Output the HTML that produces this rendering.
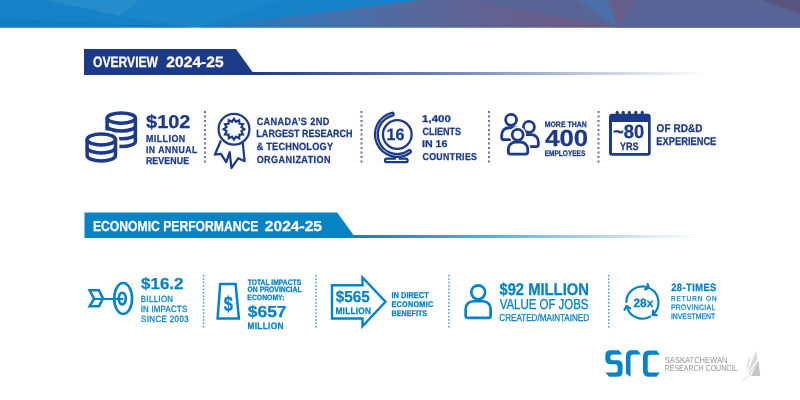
<!DOCTYPE html>
<html><head><meta charset="utf-8">
<style>
html,body{margin:0;padding:0;background:#fff;width:800px;height:400px;overflow:hidden;position:relative}
.t{position:absolute;font-family:"Liberation Sans",sans-serif;white-space:nowrap;transform-origin:0 0;text-rendering:geometricPrecision}
svg{position:absolute;left:0;top:0}
.tx{will-change:transform}
.tx text{font-family:"Liberation Sans",sans-serif;text-rendering:geometricPrecision;white-space:pre}
</style></head><body>
<svg width="800" height="400" viewBox="0 0 800 400">
<defs>
<linearGradient id="pg" x1="198" y1="0" x2="618" y2="0" gradientUnits="userSpaceOnUse">
<stop offset="0" stop-color="#1f7bc0"/><stop offset="0.25" stop-color="#3873b2"/><stop offset="0.55" stop-color="#5a6699"/><stop offset="1" stop-color="#72577f"/>
</linearGradient>
<linearGradient id="l1" x1="252" y1="0" x2="705" y2="0" gradientUnits="userSpaceOnUse">
<stop offset="0" stop-color="#1c3a88" stop-opacity="1"/><stop offset="0.4" stop-color="#1c3a88" stop-opacity="0.65"/><stop offset="1" stop-color="#1c3a88" stop-opacity="0"/>
</linearGradient>
<linearGradient id="l2" x1="353" y1="0" x2="700" y2="0" gradientUnits="userSpaceOnUse">
<stop offset="0" stop-color="#0682c5" stop-opacity="1"/><stop offset="0.4" stop-color="#0682c5" stop-opacity="0.65"/><stop offset="1" stop-color="#0682c5" stop-opacity="0"/>
</linearGradient>
</defs>
<!-- banner -->
<rect x="0" y="0" width="800" height="27.5" fill="#1581c7"/>
<polygon points="140,0 281,0 198,27.5 120,16" fill="#1b87ca"/>
<polygon points="45,0 120,16 140,0" fill="#268dcd"/>
<polygon points="0,19 198,27.5 0,27.5" fill="#117cc2"/>
<polygon points="198,27.5 422,0 800,0 800,27.5" fill="url(#pg)"/>
<polygon points="467,0 800,0 800,27.5 618,27.5" fill="#586496"/>
<polygon points="578,0 608,0 618,27.5" fill="#4b70a8"/>
<polygon points="608,0 635,0 618,27.5" fill="#665f8c"/>
<polygon points="762,0 800,0 800,14" fill="#5a5480"/>

<!-- overview header -->
<polygon points="84,49 236,49 252.5,72 84,72" fill="#1c3a88"/>
<rect x="84" y="72" width="169" height="3" fill="#1c3a88"/>
<rect x="252" y="72" width="453" height="3" fill="url(#l1)"/>
<!-- economic header -->
<polygon points="84.5,212.5 337.2,212.5 353.5,235 84.5,235" fill="#0682c5"/>
<rect x="84.5" y="235" width="269" height="3" fill="#0682c5"/>
<rect x="353" y="235" width="347" height="3" fill="url(#l2)"/>

<!-- separators row1 -->

<g fill="#1c3a88" opacity="0.7"><rect x="204" y="111.0" width="2" height="2"/><rect x="204" y="115.5" width="2" height="2"/><rect x="204" y="120.0" width="2" height="2"/><rect x="204" y="124.5" width="2" height="2"/><rect x="204" y="129.0" width="2" height="2"/><rect x="204" y="133.5" width="2" height="2"/><rect x="204" y="138.0" width="2" height="2"/><rect x="204" y="142.5" width="2" height="2"/><rect x="204" y="147.0" width="2" height="2"/><rect x="204" y="151.5" width="2" height="2"/><rect x="204" y="156.0" width="2" height="2"/><rect x="204" y="160.5" width="2" height="2"/><rect x="360.5" y="111.0" width="2" height="2"/><rect x="360.5" y="115.5" width="2" height="2"/><rect x="360.5" y="120.0" width="2" height="2"/><rect x="360.5" y="124.5" width="2" height="2"/><rect x="360.5" y="129.0" width="2" height="2"/><rect x="360.5" y="133.5" width="2" height="2"/><rect x="360.5" y="138.0" width="2" height="2"/><rect x="360.5" y="142.5" width="2" height="2"/><rect x="360.5" y="147.0" width="2" height="2"/><rect x="360.5" y="151.5" width="2" height="2"/><rect x="360.5" y="156.0" width="2" height="2"/><rect x="360.5" y="160.5" width="2" height="2"/><rect x="488" y="111.0" width="2" height="2"/><rect x="488" y="115.5" width="2" height="2"/><rect x="488" y="120.0" width="2" height="2"/><rect x="488" y="124.5" width="2" height="2"/><rect x="488" y="129.0" width="2" height="2"/><rect x="488" y="133.5" width="2" height="2"/><rect x="488" y="138.0" width="2" height="2"/><rect x="488" y="142.5" width="2" height="2"/><rect x="488" y="147.0" width="2" height="2"/><rect x="488" y="151.5" width="2" height="2"/><rect x="488" y="156.0" width="2" height="2"/><rect x="488" y="160.5" width="2" height="2"/><rect x="597.5" y="111.0" width="2" height="2"/><rect x="597.5" y="115.5" width="2" height="2"/><rect x="597.5" y="120.0" width="2" height="2"/><rect x="597.5" y="124.5" width="2" height="2"/><rect x="597.5" y="129.0" width="2" height="2"/><rect x="597.5" y="133.5" width="2" height="2"/><rect x="597.5" y="138.0" width="2" height="2"/><rect x="597.5" y="142.5" width="2" height="2"/><rect x="597.5" y="147.0" width="2" height="2"/><rect x="597.5" y="151.5" width="2" height="2"/><rect x="597.5" y="156.0" width="2" height="2"/><rect x="597.5" y="160.5" width="2" height="2"/></g><g fill="#0682c5" opacity="0.8"><rect x="202.8" y="275.0" width="1.5" height="1.5"/><rect x="202.8" y="278.4" width="1.5" height="1.5"/><rect x="202.8" y="281.8" width="1.5" height="1.5"/><rect x="202.8" y="285.2" width="1.5" height="1.5"/><rect x="202.8" y="288.6" width="1.5" height="1.5"/><rect x="202.8" y="292.0" width="1.5" height="1.5"/><rect x="202.8" y="295.4" width="1.5" height="1.5"/><rect x="202.8" y="298.8" width="1.5" height="1.5"/><rect x="202.8" y="302.2" width="1.5" height="1.5"/><rect x="202.8" y="305.6" width="1.5" height="1.5"/><rect x="202.8" y="309.0" width="1.5" height="1.5"/><rect x="202.8" y="312.4" width="1.5" height="1.5"/><rect x="202.8" y="315.8" width="1.5" height="1.5"/><rect x="202.8" y="319.2" width="1.5" height="1.5"/><rect x="202.8" y="322.6" width="1.5" height="1.5"/><rect x="202.8" y="326.0" width="1.5" height="1.5"/><rect x="315.3" y="275.0" width="1.5" height="1.5"/><rect x="315.3" y="278.4" width="1.5" height="1.5"/><rect x="315.3" y="281.8" width="1.5" height="1.5"/><rect x="315.3" y="285.2" width="1.5" height="1.5"/><rect x="315.3" y="288.6" width="1.5" height="1.5"/><rect x="315.3" y="292.0" width="1.5" height="1.5"/><rect x="315.3" y="295.4" width="1.5" height="1.5"/><rect x="315.3" y="298.8" width="1.5" height="1.5"/><rect x="315.3" y="302.2" width="1.5" height="1.5"/><rect x="315.3" y="305.6" width="1.5" height="1.5"/><rect x="315.3" y="309.0" width="1.5" height="1.5"/><rect x="315.3" y="312.4" width="1.5" height="1.5"/><rect x="315.3" y="315.8" width="1.5" height="1.5"/><rect x="315.3" y="319.2" width="1.5" height="1.5"/><rect x="315.3" y="322.6" width="1.5" height="1.5"/><rect x="315.3" y="326.0" width="1.5" height="1.5"/><rect x="448.2" y="275.0" width="1.5" height="1.5"/><rect x="448.2" y="278.4" width="1.5" height="1.5"/><rect x="448.2" y="281.8" width="1.5" height="1.5"/><rect x="448.2" y="285.2" width="1.5" height="1.5"/><rect x="448.2" y="288.6" width="1.5" height="1.5"/><rect x="448.2" y="292.0" width="1.5" height="1.5"/><rect x="448.2" y="295.4" width="1.5" height="1.5"/><rect x="448.2" y="298.8" width="1.5" height="1.5"/><rect x="448.2" y="302.2" width="1.5" height="1.5"/><rect x="448.2" y="305.6" width="1.5" height="1.5"/><rect x="448.2" y="309.0" width="1.5" height="1.5"/><rect x="448.2" y="312.4" width="1.5" height="1.5"/><rect x="448.2" y="315.8" width="1.5" height="1.5"/><rect x="448.2" y="319.2" width="1.5" height="1.5"/><rect x="448.2" y="322.6" width="1.5" height="1.5"/><rect x="448.2" y="326.0" width="1.5" height="1.5"/><rect x="608" y="275.0" width="1.5" height="1.5"/><rect x="608" y="278.4" width="1.5" height="1.5"/><rect x="608" y="281.8" width="1.5" height="1.5"/><rect x="608" y="285.2" width="1.5" height="1.5"/><rect x="608" y="288.6" width="1.5" height="1.5"/><rect x="608" y="292.0" width="1.5" height="1.5"/><rect x="608" y="295.4" width="1.5" height="1.5"/><rect x="608" y="298.8" width="1.5" height="1.5"/><rect x="608" y="302.2" width="1.5" height="1.5"/><rect x="608" y="305.6" width="1.5" height="1.5"/><rect x="608" y="309.0" width="1.5" height="1.5"/><rect x="608" y="312.4" width="1.5" height="1.5"/><rect x="608" y="315.8" width="1.5" height="1.5"/><rect x="608" y="319.2" width="1.5" height="1.5"/><rect x="608" y="322.6" width="1.5" height="1.5"/><rect x="608" y="326.0" width="1.5" height="1.5"/></g>

<!-- coins -->
<g fill="none" stroke="#1c3a88" stroke-width="3.5">
 <ellipse cx="121.25" cy="118.1" rx="14.15" ry="5.1"/>
 <path d="M107.1,118.1 V141.5 A14.15,5.1 0 0 0 135.4,141.5 V118.1"/>
 <path d="M107.1,125.9 A14.15,5.1 0 0 0 135.4,125.9"/>
 <path d="M107.1,133.7 A14.15,5.1 0 0 0 135.4,133.7"/>
</g>
<path d="M87.1,139.5 V155.5 A14.2,5.5 0 0 0 115.5,155.5 V139.5 A14.2,5.5 0 0 0 87.1,139.5 Z" fill="#fff" stroke="#fff" stroke-width="7.8"/>
<g fill="none" stroke="#1c3a88" stroke-width="3.5">
 <ellipse cx="101.3" cy="139.5" rx="14.2" ry="5.5"/>
 <path d="M87.1,139.5 V155.5 A14.2,5.5 0 0 0 115.5,155.5 V139.5"/>
 <path d="M87.1,147.5 A14.2,5.5 0 0 0 115.5,147.5"/>
</g>

<!-- badge -->
<g fill="none" stroke="#1c3a88" stroke-width="2.25" stroke-linejoin="round">
 <path d="M220.9,140.5 L214.8,154.7 L220.9,153.8 L226.2,162.1 L229.7,152.1 L231.4,168 L238.4,158.2 L244.6,161.2 L242.8,143" fill="#fff"/>
 <circle cx="234" cy="129.2" r="15.4" fill="#fff"/>
 <path d="M234.00,118.80 L235.99,121.76 L239.20,120.19 L239.44,123.76 L243.01,124.00 L241.44,127.21 L244.40,129.20 L241.44,131.19 L243.01,134.40 L239.44,134.64 L239.20,138.21 L235.99,136.64 L234.00,139.60 L232.01,136.64 L228.80,138.21 L228.56,134.64 L224.99,134.40 L226.56,131.19 L223.60,129.20 L226.56,127.21 L224.99,124.00 L228.56,123.76 L228.80,120.19 L232.01,121.76 Z" stroke-width="2.2" stroke-linejoin="miter"/>
</g>

<!-- globe -->
<g fill="none" stroke="#1c3a88" stroke-width="2.3">
 <circle cx="397.3" cy="134.5" r="14.35"/>
 <path d="M410.19,152.70 A22.3,22.3 0 1 1 391.91,112.86 A1.4000000000000004,1.4000000000000004 0 0 1 392.58,115.58 A19.5,19.5 0 1 0 408.57,150.41 A1.4000000000000004,1.4000000000000004 0 0 1 410.19,152.70 Z" fill="#fff"/>
 <path d="M394.8,156.5 V158.6 H386.8 A1.8,1.8 0 0 0 386.8,162.2 H405.8 A1.8,1.8 0 0 0 405.8,158.6 H399.8 V156.5"/>
</g>

<!-- people -->
<g fill="#fff" stroke="#1c3a88" stroke-width="2.8"><circle cx="511.1" cy="119.8" r="5.5"/><path d="M503.75,139.65 H519.15 A2,2 0 0 0 521.15,137.65 V134.75 A7,7 0 0 0 514.15,127.75 H508.75 A7,7 0 0 0 501.75,134.75 V137.65 A2,2 0 0 0 503.75,139.65 Z"/></g><g fill="#fff" stroke="#fff" stroke-width="5.8"><circle cx="528.9" cy="126.9" r="5.5"/><path d="M520.95,146.55 H536.35 A2,2 0 0 0 538.35,144.55 V141.65 A7,7 0 0 0 531.35,134.65 H525.95 A7,7 0 0 0 518.95,141.65 V144.55 A2,2 0 0 0 520.95,146.55 Z"/></g><g fill="#fff" stroke="#1c3a88" stroke-width="2.8"><circle cx="528.9" cy="126.9" r="5.5"/><path d="M520.95,146.55 H536.35 A2,2 0 0 0 538.35,144.55 V141.65 A7,7 0 0 0 531.35,134.65 H525.95 A7,7 0 0 0 518.95,141.65 V144.55 A2,2 0 0 0 520.95,146.55 Z"/></g><g fill="#fff" stroke="#fff" stroke-width="5.8"><circle cx="517.7" cy="134.8" r="5.5"/><path d="M510.35,154.05 H525.75 A2,2 0 0 0 527.75,152.05 V149.15 A7,7 0 0 0 520.75,142.15 H515.35 A7,7 0 0 0 508.35,149.15 V152.05 A2,2 0 0 0 510.35,154.05 Z"/></g><g fill="#fff" stroke="#1c3a88" stroke-width="2.8"><circle cx="517.7" cy="134.8" r="5.5"/><path d="M510.35,154.05 H525.75 A2,2 0 0 0 527.75,152.05 V149.15 A7,7 0 0 0 520.75,142.15 H515.35 A7,7 0 0 0 508.35,149.15 V152.05 A2,2 0 0 0 510.35,154.05 Z"/></g>

<!-- calendar -->
<g fill="#1c3a88">
 <path d="M612,113.8 H647.7 A3,3 0 0 1 650.7,116.8 V152.7 A3,3 0 0 1 647.7,155.7 H612 A3,3 0 0 1 609,152.7 V116.8 A3,3 0 0 1 612,113.8 Z M612,122 V153 H648 V122 Z" fill-rule="evenodd"/>
 <rect x="615.7" y="110.7" width="3" height="5" rx="1.5"/>
 <rect x="621.7" y="110.7" width="3" height="5" rx="1.5"/>
 <rect x="627.8" y="110.7" width="3" height="5" rx="1.5"/>
 <rect x="634.3" y="110.7" width="3" height="5" rx="1.5"/>
 <rect x="640.7" y="110.7" width="3" height="5" rx="1.5"/>
</g>

<!-- target -->
<g fill="none" stroke="#0682c5" stroke-linejoin="miter">
 <ellipse cx="123.15" cy="298.5" rx="8.95" ry="15.5" stroke-width="2.6"/>
 <ellipse cx="122.25" cy="298.6" rx="3.55" ry="5.9" stroke-width="2.6"/>
 <line x1="94" y1="299" x2="123.4" y2="299" stroke-width="2.1"/>
 <polygon points="89.6,290.3 99,290.3 103,298.6 99,306.2 89.6,306.2 94.2,298.6" stroke-width="2.5"/>
</g>

<!-- trapezoid -->
<g fill="none" stroke="#0682c5" stroke-width="2.5" stroke-linejoin="miter">
 <polygon points="220.2,284 235.6,284 238.9,318.6 217.6,318.6"/>
</g>

<!-- arrow -->
<path d="M332,285.3 H362.5 V277.5 L385.5,301.8 L362.5,326.3 V318.5 H332 Z" fill="none" stroke="#0682c5" stroke-width="2.4" stroke-linejoin="miter"/>

<!-- person -->
<g fill="none" stroke="#0682c5" stroke-width="2.7">
 <circle cx="478.2" cy="292.3" r="6.95"/>
 <path d="M467.65,317.85 H488.65 A2,2 0 0 0 490.65,315.85 V308.75 A7.5,7.5 0 0 0 483.15,301.25 H473.15 A7.5,7.5 0 0 0 465.65,308.75 V315.85 A2,2 0 0 0 467.65,317.85 Z"/>
</g>

<!-- cycle -->
<g fill="none" stroke="#0682c5" stroke-width="2.2" stroke-linecap="round" stroke-linejoin="round"><path d="M650.93,288.90 A16.1,16.1 0 0 1 652.75,314.88"/><path d="M656.93,315.25 L652.75,314.88"/><path d="M653.11,310.70 L652.75,314.88"/><path d="M650.21,316.63 A16.1,16.1 0 0 1 626.71,306.17"/><path d="M624.49,309.73 L626.71,306.17"/><path d="M630.27,308.40 L626.71,306.17"/><path d="M626.31,301.99 A16.1,16.1 0 0 1 648.95,287.84"/><path d="M647.44,283.92 L648.95,287.84"/><path d="M645.03,289.35 L648.95,287.84"/></g>

<!-- logo -->
<g fill="#0682c5">
 <path d="M618.9,350.3 L622.3,354.4 L613,354.4 Q610.3,354.4 610.3,357 L610.3,357.6 Q610.3,360.2 613,360.2 L617.3,360.2 Q622.6,360.2 622.6,365.5 L622.6,371.4 Q622.6,376.7 617.3,376.7 L609.3,376.7 L605.3,372.6 L615,372.6 Q617.7,372.6 617.7,370 L617.7,366.9 Q617.7,364.3 615,364.3 L610.6,364.3 Q605.3,364.3 605.3,359 L605.3,355.6 Q605.3,350.3 610.6,350.3 Z"/>
 <path d="M631.6,350.3 L637.5,350.3 L641.2,354.4 L633.1,354.4 Q630.5,354.4 630.5,357 L630.5,376.7 L625.9,373.4 L625.9,356 Q625.9,350.3 631.6,350.3 Z"/>
 <path d="M649,350.5 L656.5,350.5 L660,354.7 L650.3,354.7 Q647.7,354.7 647.7,357.3 L647.7,370 Q647.7,372.6 650.3,372.6 L660,372.6 L656.5,376.8 L649,376.8 Q643,376.8 643,370.8 L643,356.5 Q643,350.5 649,350.5 Z"/>
</g>
<!-- sail -->
<g>
 <polygon points="755.7,351 758.6,362 749.5,375 748.2,371" fill="#d9d9d9"/>
 <polygon points="749,356 750.6,358.5 747.8,372 746.6,369" fill="#dedede"/>
 <polygon points="758.3,360.8 760.4,376 751,376" fill="#c6c6c6"/>
 <path d="M741.5,380.5 Q750,372 758.5,359" fill="none" stroke="#fff" stroke-width="1.3"/>
 <path d="M744,378 Q749,368 752,356" fill="none" stroke="#fff" stroke-width="1"/>
 <path d="M742.4,380.6 Q747,377.5 751,374.5" fill="none" stroke="#d6d6d6" stroke-width="0.8"/>
</g>
</svg>
<svg class="tx" width="800" height="400"><text transform="translate(93.12,67.00) scale(0.8016,1)" font-size="15.07" font-weight="700" fill="#ffffff" stroke="#ffffff" stroke-width="0.28" >OVERVIEW</text>
<text transform="translate(166.33,67.00) scale(1.0365,1)" font-size="15.07" font-weight="700" fill="#ffffff" stroke="#ffffff" stroke-width="0.28" >2024-25</text>
<text transform="translate(146.10,127.80) scale(1.0756,1)" font-size="18.55" font-weight="700" fill="#1c3a88" stroke="#1c3a88" stroke-width="0.28" >$102</text>
<text transform="translate(145.88,142.00) scale(0.8800,1)" font-size="10.14" font-weight="700" fill="#1c3a88" stroke="#1c3a88" stroke-width="0.28" letter-spacing="0.522" >MILLION</text>
<text transform="translate(145.89,153.30) scale(0.8800,1)" font-size="9.86" font-weight="700" fill="#1c3a88" stroke="#1c3a88" stroke-width="0.28" letter-spacing="0.570" >IN ANNUAL</text>
<text transform="translate(145.88,163.90) scale(0.8800,1)" font-size="10.00" font-weight="700" fill="#1c3a88" stroke="#1c3a88" stroke-width="0.28" letter-spacing="0.128" >REVENUE</text>
<text transform="translate(256.63,124.50) scale(0.8800,1)" font-size="10.43" font-weight="700" fill="#1c3a88" stroke="#1c3a88" stroke-width="0.28" letter-spacing="0.399" >CANADA’S 2ND</text>
<text transform="translate(256.37,137.40) scale(0.8646,1)" font-size="10.43" font-weight="700" fill="#1c3a88" stroke="#1c3a88" stroke-width="0.28" >LARGEST RESEARCH</text>
<text transform="translate(256.63,150.00) scale(0.8800,1)" font-size="10.43" font-weight="700" fill="#1c3a88" stroke="#1c3a88" stroke-width="0.28" letter-spacing="0.262" >&amp; TECHNOLOGY</text>
<text transform="translate(256.64,162.80) scale(0.8800,1)" font-size="10.29" font-weight="700" fill="#1c3a88" stroke="#1c3a88" stroke-width="0.28" letter-spacing="0.488" >ORGANIZATION</text>
<text transform="translate(386.53,140.00) scale(0.9768,1)" font-size="16.52" font-weight="700" fill="#1c3a88" stroke="#1c3a88" stroke-width="0.28" >16</text>
<text transform="translate(422.11,122.30) scale(1.1627,1)" font-size="9.86" font-weight="700" fill="#1c3a88" stroke="#1c3a88" stroke-width="0.28" >1,400</text>
<text transform="translate(422.44,134.70) scale(0.8671,1)" font-size="10.43" font-weight="700" fill="#1c3a88" stroke="#1c3a88" stroke-width="0.28" >CLIENTS</text>
<text transform="translate(422.06,147.00) scale(1.0931,1)" font-size="9.71" font-weight="700" fill="#1c3a88" stroke="#1c3a88" stroke-width="0.28" >IN 16</text>
<text transform="translate(422.45,159.50) scale(0.8800,1)" font-size="10.00" font-weight="700" fill="#1c3a88" stroke="#1c3a88" stroke-width="0.28" letter-spacing="0.380" >COUNTRIES</text>
<text transform="translate(544.72,127.20) scale(0.8800,1)" font-size="7.83" font-weight="700" fill="#1c3a88" stroke="#1c3a88" stroke-width="0.28" letter-spacing="0.033" >MORE THAN</text>
<text transform="translate(545.18,146.20) scale(1.1116,1)" font-size="23.19" font-weight="700" fill="#1c3a88" stroke="#1c3a88" stroke-width="0.28" >400</text>
<text transform="translate(544.74,156.30) scale(0.8026,1)" font-size="8.12" font-weight="700" fill="#1c3a88" stroke="#1c3a88" stroke-width="0.28" >EMPLOYEES</text>
<text transform="translate(613.06,138.20) scale(0.9643,1)" font-size="19.13" font-weight="700" fill="#1c3a88" stroke="#1c3a88" stroke-width="0.28" >~80</text>
<text transform="translate(620.02,150.00) scale(0.8280,1)" font-size="10.87" font-weight="700" fill="#1c3a88" stroke="#1c3a88" stroke-width="0.28" >YRS</text>
<text transform="translate(656.60,132.00) scale(0.8800,1)" font-size="11.30" font-weight="700" fill="#1c3a88" stroke="#1c3a88" stroke-width="0.28" letter-spacing="0.101" >OF RD&amp;D</text>
<text transform="translate(656.35,144.80) scale(0.8232,1)" font-size="11.30" font-weight="700" fill="#1c3a88" stroke="#1c3a88" stroke-width="0.28" >EXPERIENCE</text>
<text transform="translate(92.95,230.60) scale(0.8392,1)" font-size="14.49" font-weight="700" fill="#ffffff" stroke="#ffffff" stroke-width="0.28" >ECONOMIC PERFORMANCE</text>
<text transform="translate(264.83,230.60) scale(1.0761,1)" font-size="14.49" font-weight="700" fill="#ffffff" stroke="#ffffff" stroke-width="0.28" >2024-25</text>
<text transform="translate(141.06,288.50) scale(1.0617,1)" font-size="15.94" font-weight="700" fill="#0682c5" stroke="#0682c5" stroke-width="0.28" >$16.2</text>
<text transform="translate(140.77,301.60) scale(0.8800,1)" font-size="8.99" font-weight="400" fill="#0682c5" stroke="#0682c5" stroke-width="0.3" letter-spacing="0.375" >BILLION</text>
<text transform="translate(140.69,311.60) scale(0.8800,1)" font-size="8.99" font-weight="400" fill="#0682c5" stroke="#0682c5" stroke-width="0.3" letter-spacing="0.231" >IN IMPACTS</text>
<text transform="translate(141.00,321.50) scale(0.8800,1)" font-size="8.99" font-weight="400" fill="#0682c5" stroke="#0682c5" stroke-width="0.3" letter-spacing="0.458" >SINCE 2003</text>
<text transform="translate(247.73,284.90) scale(0.8454,1)" font-size="7.97" font-weight="700" fill="#0682c5" stroke="#0682c5" stroke-width="0.28" >TOTAL IMPACTS</text>
<text transform="translate(247.53,292.40) scale(0.8691,1)" font-size="7.83" font-weight="700" fill="#0682c5" stroke="#0682c5" stroke-width="0.28" >ON PROVINCIAL</text>
<text transform="translate(247.33,300.00) scale(0.8800,1)" font-size="7.68" font-weight="700" fill="#0682c5" stroke="#0682c5" stroke-width="0.28" letter-spacing="0.072" >ECONOMY:</text>
<text transform="translate(223.77,311.03) scale(0.7885,1)" font-size="20.98" font-weight="700" fill="#0682c5" stroke="#0682c5" stroke-width="0.28" >$</text>
<text transform="translate(247.75,317.00) scale(1.0948,1)" font-size="15.94" font-weight="700" fill="#0682c5" stroke="#0682c5" stroke-width="0.28" >$657</text>
<text transform="translate(247.42,329.30) scale(0.8800,1)" font-size="9.42" font-weight="700" fill="#0682c5" stroke="#0682c5" stroke-width="0.28" letter-spacing="0.396" >MILLION</text>
<text transform="translate(335.69,302.00) scale(0.9582,1)" font-size="15.94" font-weight="700" fill="#0682c5" stroke="#0682c5" stroke-width="0.28" >$565</text>
<text transform="translate(335.42,314.00) scale(0.8800,1)" font-size="9.42" font-weight="700" fill="#0682c5" stroke="#0682c5" stroke-width="0.28" letter-spacing="0.301" >MILLION</text>
<text transform="translate(391.48,297.90) scale(0.8724,1)" font-size="8.55" font-weight="700" fill="#0682c5" stroke="#0682c5" stroke-width="0.28" >IN DIRECT</text>
<text transform="translate(391.49,306.90) scale(0.8800,1)" font-size="8.26" font-weight="700" fill="#0682c5" stroke="#0682c5" stroke-width="0.28" letter-spacing="0.283" >ECONOMIC</text>
<text transform="translate(391.50,316.00) scale(0.8800,1)" font-size="8.12" font-weight="700" fill="#0682c5" stroke="#0682c5" stroke-width="0.28" letter-spacing="0.049" >BENEFITS</text>
<text transform="translate(499.45,295.30) scale(0.8718,1)" font-size="16.96" font-weight="700" fill="#0682c5" stroke="#0682c5" stroke-width="0.28" >$92 MILLION</text>
<text transform="translate(499.64,309.30) scale(0.7898,1)" font-size="14.49" font-weight="400" fill="#0682c5" stroke="#0682c5" stroke-width="0.3" >VALUE OF JOBS</text>
<text transform="translate(499.34,320.50) scale(0.8106,1)" font-size="10.00" font-weight="400" fill="#0682c5" stroke="#0682c5" stroke-width="0.3" >CREATED/MAINTAINED</text>
<text transform="translate(633.44,306.50) scale(0.9945,1)" font-size="12.03" font-weight="700" fill="#0682c5" stroke="#0682c5" stroke-width="0.28" >28x</text>
<text transform="translate(671.22,290.70) scale(0.8800,1)" font-size="10.58" font-weight="700" fill="#0682c5" stroke="#0682c5" stroke-width="0.28" letter-spacing="0.512" >28-TIMES</text>
<text transform="translate(670.99,300.80) scale(0.8800,1)" font-size="7.25" font-weight="400" fill="#0682c5" stroke="#0682c5" stroke-width="0.25" letter-spacing="1.086" >RETURN ON</text>
<text transform="translate(670.95,310.20) scale(0.8800,1)" font-size="7.83" font-weight="400" fill="#0682c5" stroke="#0682c5" stroke-width="0.25" letter-spacing="0.327" >PROVINCIAL</text>
<text transform="translate(670.88,319.40) scale(0.8800,1)" font-size="7.83" font-weight="400" fill="#0682c5" stroke="#0682c5" stroke-width="0.25" letter-spacing="-0.012" >INVESTMENT</text>
<text transform="translate(664.82,362.70) scale(0.8577,1)" font-size="8.84" font-weight="400" fill="#959595" stroke="#959595" stroke-width="0" >SASKATCHEWAN</text>
<text transform="translate(664.64,370.90) scale(0.8079,1)" font-size="8.70" font-weight="400" fill="#959595" stroke="#959595" stroke-width="0" >RESEARCH COUNCIL</text></svg>
</body></html>
